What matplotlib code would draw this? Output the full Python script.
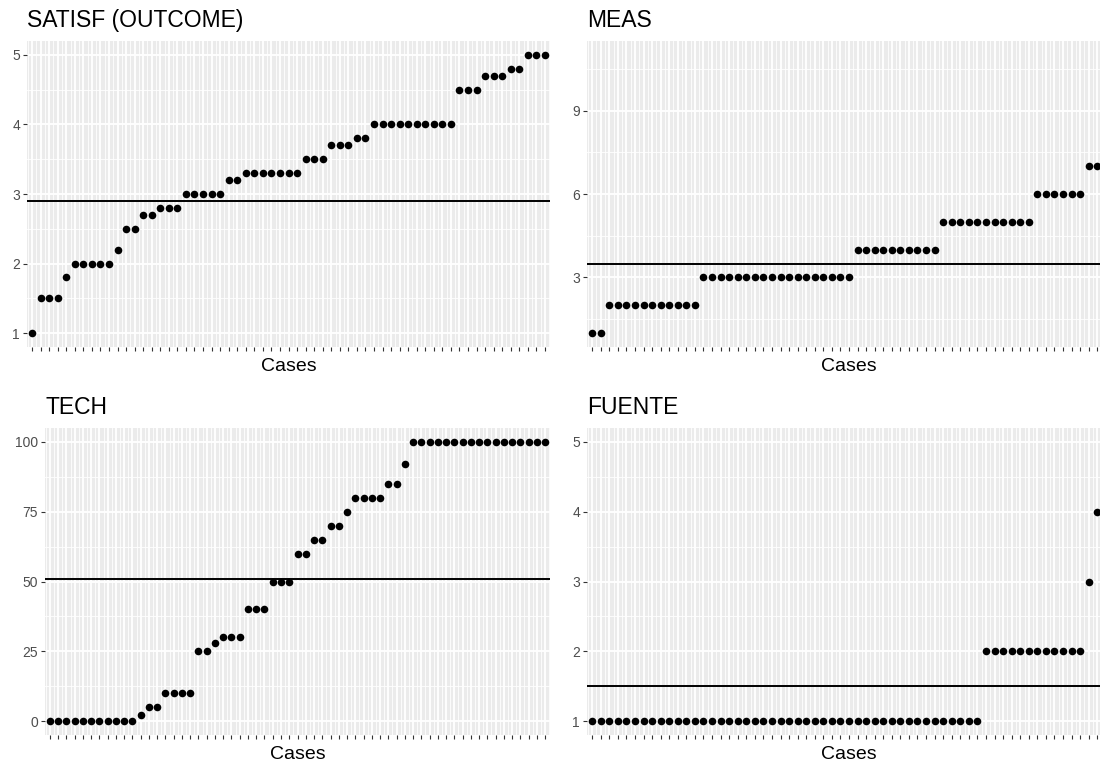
import matplotlib
matplotlib.use("Agg")
import matplotlib.pyplot as plt
import numpy as np

plt.rcParams['font.family'] = ['Liberation Sans', 'DejaVu Sans']

# values (cases sorted within each variable)
satisf = [1.0, 1.5, 1.5, 1.5, 1.8, 2.0, 2.0, 2.0, 2.0, 2.0, 2.2, 2.5, 2.5, 2.7, 2.7,
          2.8, 2.8, 2.8, 3.0, 3.0, 3.0, 3.0, 3.0, 3.2, 3.2, 3.3, 3.3, 3.3, 3.3, 3.3,
          3.3, 3.3, 3.5, 3.5, 3.5, 3.7, 3.7, 3.7, 3.8, 3.8, 4.0, 4.0, 4.0, 4.0, 4.0,
          4.0, 4.0, 4.0, 4.0, 4.0, 4.5, 4.5, 4.5, 4.7, 4.7, 4.7, 4.8, 4.8, 5.0, 5.0, 5.0]
meas = [1, 1, 2, 2, 2, 2, 2, 2, 2, 2, 2, 2, 2, 3, 3, 3, 3, 3, 3, 3, 3, 3, 3, 3, 3,
        3, 3, 3, 3, 3, 3, 4, 4, 4, 4, 4, 4, 4, 4, 4, 4, 5, 5, 5, 5, 5, 5, 5, 5, 5, 5,
        5, 6, 6, 6, 6, 6, 6, 7, 7, 11]
tech = [0, 0, 0, 0, 0, 0, 0, 0, 0, 0, 0, 2, 5, 5, 10, 10, 10, 10, 25, 25, 28, 30, 30,
        30, 40, 40, 40, 50, 50, 50, 60, 60, 65, 65, 70, 70, 75, 80, 80, 80, 80, 85, 85,
        92, 100, 100, 100, 100, 100, 100, 100, 100, 100, 100, 100, 100, 100, 100, 100,
        100, 100]
fuente = [1, 1, 1, 1, 1, 1, 1, 1, 1, 1, 1, 1, 1, 1, 1, 1, 1, 1, 1, 1, 1, 1, 1, 1, 1,
          1, 1, 1, 1, 1, 1, 1, 1, 1, 1, 1, 1, 1, 1, 1, 1, 1, 1, 1, 1, 1, 2, 2, 2, 2, 2,
          2, 2, 2, 2, 2, 2, 2, 3, 4, 5]

titles = ['SATISF (OUTCOME)', 'MEAS', 'TECH', 'FUENTE']
series = [satisf, meas, tech, fuente]
thresholds = [2.9, 3.5, 51, 1.5]
yticks = [[1, 2, 3, 4, 5], [3, 6, 9], [0, 25, 50, 75, 100], [1, 2, 3, 4, 5]]

W, H = 1100, 763
fig = plt.figure(figsize=(W / 100, H / 100), dpi=100)

# panel boxes in pixels: left, right, top, bottom
boxes = [(27, 550, 41, 347), (587, 1111, 41, 347),
         (45, 550, 428, 735), (587, 1111, 428, 735)]

for vals, title, thr, yt, (l, r, t, b) in zip(series, titles, thresholds, yticks, boxes):
    ax = fig.add_axes([l / W, 1 - b / H, (r - l) / W, (b - t) / H])
    ax.set_facecolor('#EBEBEB')
    for s in ax.spines.values():
        s.set_visible(False)

    n = len(vals)
    x = np.arange(n)
    lo, hi = min(vals), max(vals)
    pad = 0.05 * (hi - lo)
    ax.set_xlim(-0.6, n - 0.4)
    ax.set_ylim(lo - pad, hi + pad)

    ax.set_xticks(x)
    ax.set_xticklabels([''] * n)
    ax.set_xticks(np.arange(-0.5, n, 1), minor=True)
    ax.set_yticks(yt)
    ax.set_yticklabels([str(v) for v in yt])
    step = yt[1] - yt[0]
    ymin = np.arange(yt[0] - step / 2, hi + pad, step)
    ax.set_yticks([v for v in ymin if lo - pad < v < hi + pad], minor=True)

    ax.grid(True, which='major', color='white', linewidth=1.3)
    ax.grid(True, which='minor', color='white', linewidth=0.6)
    ax.set_axisbelow(True)

    ax.tick_params(which='major', length=3, width=0.8, color='#333333',
                   labelsize=10, labelcolor='#4D4D4D', pad=2)
    ax.tick_params(which='minor', length=0)

    ax.axhline(thr, color='black', linewidth=1.4, zorder=3)
    ax.scatter(x, vals, s=30, color='black', zorder=4, linewidths=0)

    ax.set_xlabel('Cases', fontsize=14, labelpad=3)
    ax.set_title(title, fontsize=16.5, loc='left', pad=10)

fig.savefig('out.png', dpi=100)
